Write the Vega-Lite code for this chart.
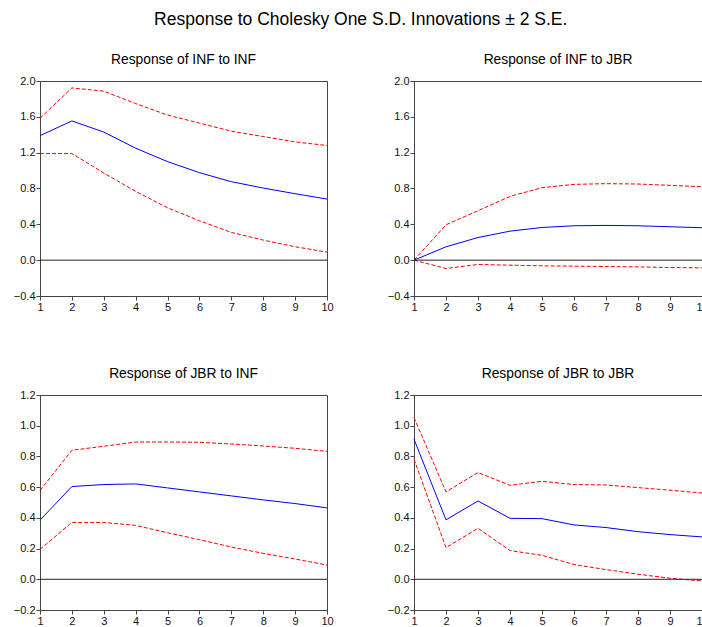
{
  "$schema": "https://vega.github.io/schema/vega-lite/v6.json",
  "background": "white",
  "padding": {"left": 12, "top": 11, "right": 0, "bottom": 0},
  "title": {"text": "Response to Cholesky One S.D. Innovations ± 2 S.E.", "fontSize": 17.5, "fontWeight": "normal", "font": "Liberation Sans", "color": "#000", "anchor": "middle", "offset": 24},
  "datasets": {
    "irf": [
      {"p": "a", "step": 1, "resp": 1.39, "lo": 1.19, "hi": 1.584},
      {"p": "a", "step": 2, "resp": 1.554, "lo": 1.19, "hi": 1.923},
      {"p": "a", "step": 3, "resp": 1.43, "lo": 0.973, "hi": 1.886},
      {"p": "a", "step": 4, "resp": 1.25, "lo": 0.768, "hi": 1.748},
      {"p": "a", "step": 5, "resp": 1.10, "lo": 0.585, "hi": 1.62},
      {"p": "a", "step": 6, "resp": 0.977, "lo": 0.44, "hi": 1.53},
      {"p": "a", "step": 7, "resp": 0.876, "lo": 0.31, "hi": 1.44},
      {"p": "a", "step": 8, "resp": 0.805, "lo": 0.224, "hi": 1.38},
      {"p": "a", "step": 9, "resp": 0.742, "lo": 0.15, "hi": 1.32},
      {"p": "a", "step": 10, "resp": 0.682, "lo": 0.09, "hi": 1.28},
      {"p": "b", "step": 1, "resp": 0.0, "lo": 0.0, "hi": 0.0},
      {"p": "b", "step": 2, "resp": 0.149, "lo": -0.093, "hi": 0.395},
      {"p": "b", "step": 3, "resp": 0.253, "lo": -0.048, "hi": 0.552},
      {"p": "b", "step": 4, "resp": 0.324, "lo": -0.056, "hi": 0.712},
      {"p": "b", "step": 5, "resp": 0.365, "lo": -0.063, "hi": 0.809},
      {"p": "b", "step": 6, "resp": 0.384, "lo": -0.067, "hi": 0.846},
      {"p": "b", "step": 7, "resp": 0.388, "lo": -0.071, "hi": 0.854},
      {"p": "b", "step": 8, "resp": 0.384, "lo": -0.075, "hi": 0.85},
      {"p": "b", "step": 9, "resp": 0.373, "lo": -0.082, "hi": 0.835},
      {"p": "b", "step": 10, "resp": 0.362, "lo": -0.086, "hi": 0.82},
      {"p": "c", "step": 1, "resp": 0.385, "lo": 0.195, "hi": 0.578},
      {"p": "c", "step": 2, "resp": 0.604, "lo": 0.37, "hi": 0.84},
      {"p": "c", "step": 3, "resp": 0.617, "lo": 0.37, "hi": 0.866},
      {"p": "c", "step": 4, "resp": 0.621, "lo": 0.351, "hi": 0.894},
      {"p": "c", "step": 5, "resp": 0.595, "lo": 0.303, "hi": 0.894},
      {"p": "c", "step": 6, "resp": 0.569, "lo": 0.258, "hi": 0.892},
      {"p": "c", "step": 7, "resp": 0.543, "lo": 0.21, "hi": 0.881},
      {"p": "c", "step": 8, "resp": 0.517, "lo": 0.169, "hi": 0.868},
      {"p": "c", "step": 9, "resp": 0.493, "lo": 0.132, "hi": 0.853},
      {"p": "c", "step": 10, "resp": 0.465, "lo": 0.093, "hi": 0.833},
      {"p": "d", "step": 1, "resp": 0.912, "lo": 0.782, "hi": 1.053},
      {"p": "d", "step": 2, "resp": 0.387, "lo": 0.206, "hi": 0.569},
      {"p": "d", "step": 3, "resp": 0.51, "lo": 0.332, "hi": 0.695},
      {"p": "d", "step": 4, "resp": 0.397, "lo": 0.187, "hi": 0.612},
      {"p": "d", "step": 5, "resp": 0.395, "lo": 0.156, "hi": 0.638},
      {"p": "d", "step": 6, "resp": 0.354, "lo": 0.096, "hi": 0.617},
      {"p": "d", "step": 7, "resp": 0.337, "lo": 0.063, "hi": 0.614},
      {"p": "d", "step": 8, "resp": 0.31, "lo": 0.033, "hi": 0.597},
      {"p": "d", "step": 9, "resp": 0.291, "lo": 0.007, "hi": 0.58},
      {"p": "d", "step": 10, "resp": 0.276, "lo": -0.011, "hi": 0.562}
    ],
    "zero": [{"z": 0}]
  },
  "config": {
    "font": "Liberation Sans",
    "view": {"stroke": "#444", "strokeWidth": 1},
    "title": {"fontSize": 13.8, "fontWeight": "normal", "color": "#000", "font": "Liberation Sans", "offset": 8},
    "axis": {"labelFont": "Liberation Sans", "labelFontSize": 11, "labelColor": "#111", "domainColor": "#444", "tickColor": "#444", "tickSize": 4, "grid": false, "title": null, "labelPadding": 1, "labelOverlap": false, "tickCount": 20},
    "line": {"strokeWidth": 1}
  },
  "spacing": 53,
  "vconcat": [
    {
      "spacing": 52,
      "hconcat": [
        {
          "title": "Response of INF to INF",
          "width": 287, "height": 215,
          "data": {"name": "irf"},
          "transform": [{"filter": "datum.p === 'a'"}],
          "encoding": {
            "x": {"field": "step", "type": "quantitative", "scale": {"domain": [1, 10], "nice": false}, "axis": {"values": [1,2,3,4,5,6,7,8,9,10], "format": "d", "labelFlush": false}}
          },
          "layer": [
            {"mark": {"type": "line", "color": "#FF0000", "strokeDash": [4, 2]}, "encoding": {"y": {"field": "hi", "type": "quantitative", "scale": {"domain": [-0.4, 2.0], "nice": false}, "axis": {"values": [-0.4, 0, 0.4, 0.8, 1.2, 1.6, 2.0], "format": ".1f", "tickCount": 20}}}},
            {"mark": {"type": "line", "color": "#FF0000", "strokeDash": [4, 2]}, "encoding": {"y": {"field": "lo", "type": "quantitative"}}},
            {"mark": {"type": "line", "color": "#0000FF"}, "encoding": {"y": {"field": "resp", "type": "quantitative"}}},
            {"data": {"name": "zero"}, "mark": {"type": "rule", "color": "#222", "strokeWidth": 1}, "encoding": {"x": null, "y": {"field": "z", "type": "quantitative"}}}
          ]
        },
        {
          "title": "Response of INF to JBR",
          "width": 288, "height": 215,
          "data": {"name": "irf"},
          "transform": [{"filter": "datum.p === 'b'"}],
          "encoding": {
            "x": {"field": "step", "type": "quantitative", "scale": {"domain": [1, 10], "nice": false}, "axis": {"values": [1,2,3,4,5,6,7,8,9,10], "format": "d", "labelFlush": false}}
          },
          "layer": [
            {"mark": {"type": "line", "color": "#FF0000", "strokeDash": [4, 2]}, "encoding": {"y": {"field": "hi", "type": "quantitative", "scale": {"domain": [-0.4, 2.0], "nice": false}, "axis": {"values": [-0.4, 0, 0.4, 0.8, 1.2, 1.6, 2.0], "format": ".1f", "tickCount": 20}}}},
            {"mark": {"type": "line", "color": "#FF0000", "strokeDash": [4, 2]}, "encoding": {"y": {"field": "lo", "type": "quantitative"}}},
            {"mark": {"type": "line", "color": "#0000FF"}, "encoding": {"y": {"field": "resp", "type": "quantitative"}}},
            {"data": {"name": "zero"}, "mark": {"type": "rule", "color": "#222", "strokeWidth": 1}, "encoding": {"x": null, "y": {"field": "z", "type": "quantitative"}}}
          ]
        }
      ]
    },
    {
      "spacing": 52,
      "hconcat": [
        {
          "title": "Response of JBR to INF",
          "width": 287, "height": 215,
          "data": {"name": "irf"},
          "transform": [{"filter": "datum.p === 'c'"}],
          "encoding": {
            "x": {"field": "step", "type": "quantitative", "scale": {"domain": [1, 10], "nice": false}, "axis": {"values": [1,2,3,4,5,6,7,8,9,10], "format": "d", "labelFlush": false}}
          },
          "layer": [
            {"mark": {"type": "line", "color": "#FF0000", "strokeDash": [4, 2]}, "encoding": {"y": {"field": "hi", "type": "quantitative", "scale": {"domain": [-0.2, 1.2], "nice": false}, "axis": {"values": [-0.2, 0, 0.2, 0.4, 0.6, 0.8, 1.0, 1.2], "format": ".1f", "tickCount": 20}}}},
            {"mark": {"type": "line", "color": "#FF0000", "strokeDash": [4, 2]}, "encoding": {"y": {"field": "lo", "type": "quantitative"}}},
            {"mark": {"type": "line", "color": "#0000FF"}, "encoding": {"y": {"field": "resp", "type": "quantitative"}}},
            {"data": {"name": "zero"}, "mark": {"type": "rule", "color": "#222", "strokeWidth": 1}, "encoding": {"x": null, "y": {"field": "z", "type": "quantitative"}}}
          ]
        },
        {
          "title": "Response of JBR to JBR",
          "width": 288, "height": 215,
          "data": {"name": "irf"},
          "transform": [{"filter": "datum.p === 'd'"}],
          "encoding": {
            "x": {"field": "step", "type": "quantitative", "scale": {"domain": [1, 10], "nice": false}, "axis": {"values": [1,2,3,4,5,6,7,8,9,10], "format": "d", "labelFlush": false}}
          },
          "layer": [
            {"mark": {"type": "line", "color": "#FF0000", "strokeDash": [4, 2]}, "encoding": {"y": {"field": "hi", "type": "quantitative", "scale": {"domain": [-0.2, 1.2], "nice": false}, "axis": {"values": [-0.2, 0, 0.2, 0.4, 0.6, 0.8, 1.0, 1.2], "format": ".1f", "tickCount": 20}}}},
            {"mark": {"type": "line", "color": "#FF0000", "strokeDash": [4, 2]}, "encoding": {"y": {"field": "lo", "type": "quantitative"}}},
            {"mark": {"type": "line", "color": "#0000FF"}, "encoding": {"y": {"field": "resp", "type": "quantitative"}}},
            {"data": {"name": "zero"}, "mark": {"type": "rule", "color": "#222", "strokeWidth": 1}, "encoding": {"x": null, "y": {"field": "z", "type": "quantitative"}}}
          ]
        }
      ]
    }
  ]
}
